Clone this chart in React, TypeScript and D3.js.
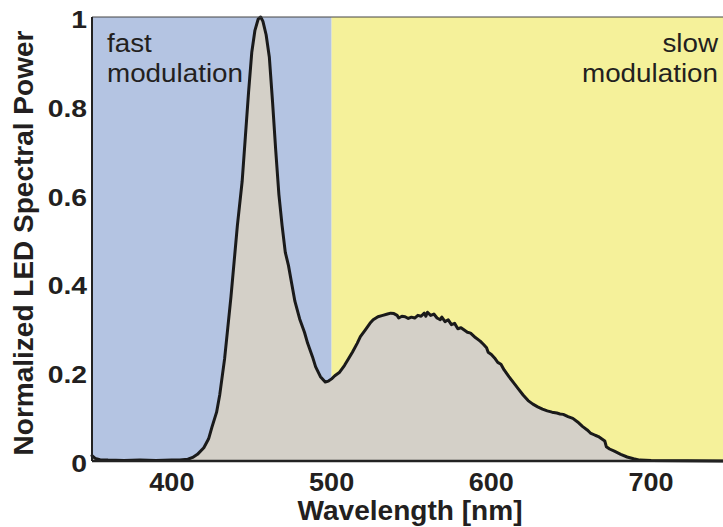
import React from "react";
import * as d3 from "d3";

// LED emission spectrum, normalized to its peak
const wavelengths = [
  350, 352, 355, 360, 370, 380, 390, 400, 405, 410, 413, 416, 420, 423, 425, 428, 430, 433, 435, 437,
  439, 441, 444, 446, 448, 450, 452, 454, 455.6, 457, 459, 461, 463, 465, 467, 469, 471, 473, 475, 477,
  480, 483, 485, 488, 490, 493, 496, 498, 500, 502, 505, 508, 510, 513, 516, 518, 521, 524, 526, 529,
  532, 535, 537, 539, 541, 542, 544, 546, 548, 550, 552, 554, 556, 558, 559, 560, 562, 564, 566, 568,
  569, 571, 573, 575, 577, 579, 581, 583, 585, 587, 590, 593, 595, 597, 598, 600, 602, 604, 606, 608,
  611, 614, 617, 620, 623, 626, 629, 632, 635, 638, 641, 643, 645, 648, 651, 654, 657, 660, 662, 665,
  667, 669, 671, 672, 674, 677, 681, 685, 689, 693, 700, 745,
];
const power = [
  0.012, 0.006, 0.003, 0.002, 0.001, 0.002, 0.001, 0.002, 0.002, 0.004, 0.008, 0.015, 0.03, 0.05, 0.075, 0.11, 0.15, 0.23, 0.3, 0.37,
  0.45, 0.53, 0.63, 0.73, 0.83, 0.92, 0.97, 0.995, 1.0, 0.99, 0.96, 0.91, 0.81, 0.7, 0.6, 0.53, 0.47, 0.44, 0.4, 0.36,
  0.32, 0.29, 0.265, 0.235, 0.212, 0.19, 0.178, 0.18, 0.185, 0.192, 0.2, 0.215, 0.227, 0.245, 0.265, 0.28, 0.295, 0.31, 0.318, 0.325,
  0.328, 0.331, 0.333, 0.332, 0.328, 0.322, 0.326, 0.325, 0.321, 0.324, 0.322, 0.328, 0.326, 0.333, 0.326, 0.335, 0.328, 0.331, 0.322, 0.318,
  0.324, 0.314, 0.318, 0.307, 0.31, 0.298, 0.3, 0.295, 0.29, 0.288, 0.278, 0.27, 0.263, 0.255, 0.245, 0.24, 0.232, 0.222, 0.218, 0.205,
  0.19, 0.176, 0.162, 0.148, 0.136, 0.128, 0.122, 0.117, 0.113, 0.11, 0.108, 0.106, 0.105, 0.1, 0.096, 0.088, 0.078, 0.07, 0.063, 0.058,
  0.055, 0.05, 0.045, 0.032, 0.027, 0.022, 0.015, 0.009, 0.005, 0.002, 0.001, 0.0,
];

const xTicks = [400, 500, 600, 700];
const yTicks = [0, 0.2, 0.4, 0.6, 0.8, 1];
const yTickLabels = ["0", "0.2", "0.4", "0.6", "0.8", "1"];

// modulation bands: [start, end] in nm
const fastBand = [350, 500];
const slowBand = [500, 745];

const W = 723;
const H = 527;
const margin = { left: 92, right: 0, top: 17, bottom: 66 };
const FONT = "'Liberation Sans', Arial, Helvetica, sans-serif";
const INK = "#231f20";

export default function App() {
  const x = d3.scaleLinear().domain([350, 745]).range([margin.left, W - margin.right]);
  const y = d3.scaleLinear().domain([0, 1]).range([H - margin.bottom, margin.top]);

  const pts: [number, number][] = wavelengths.map((w, i) => [w, power[i]]);
  const area = d3
    .area<[number, number]>()
    .x((d) => x(d[0]))
    .y0(y(0))
    .y1((d) => y(d[1]));
  const line = d3
    .line<[number, number]>()
    .x((d) => x(d[0]))
    .y((d) => y(d[1]));

  const y0 = y(0);
  const y1 = y(1);

  return (
    <svg
      width={W}
      height={H}
      style={{ position: "absolute", left: 0, top: 0, display: "block" }}
      fontFamily={FONT}
    >
      <rect width={W} height={H} fill="#ffffff" />
      <rect
        x={x(fastBand[0])}
        y={y1}
        width={x(fastBand[1]) - x(fastBand[0])}
        height={y0 - y1}
        fill="#b4c4e2"
      />
      <rect
        x={x(slowBand[0])}
        y={y1}
        width={x(slowBand[1]) - x(slowBand[0])}
        height={y0 - y1}
        fill="#f5f19a"
      />
      <path d={area(pts) ?? ""} fill="#d4d0c8" />
      <path
        d={line(pts) ?? ""}
        fill="none"
        stroke="#1a1a1a"
        strokeWidth={3}
        strokeLinejoin="round"
        strokeLinecap="round"
      />

      {/* frame */}
      <line x1={margin.left} x2={W} y1={y1} y2={y1} stroke="#444" strokeWidth={1} />
      <line x1={margin.left} x2={margin.left} y1={y1} y2={y0} stroke="#222" strokeWidth={2} />
      <line x1={margin.left} x2={W} y1={y0} y2={y0} stroke="#222" strokeWidth={2.5} />

      {/* band labels */}
      <g fontSize={26} fill={INK}>
        <text transform="translate(107,52) scale(1.07,1)">fast</text>
        <text transform="translate(107,82) scale(1.07,1)">modulation</text>
        <text transform="translate(718,52) scale(1.07,1)" textAnchor="end">slow</text>
        <text transform="translate(718,82) scale(1.07,1)" textAnchor="end">modulation</text>
      </g>

      {/* x ticks */}
      {xTicks.map((t) => (
        <text
          key={t}
          transform={`translate(${x(t)},491) scale(1.08,1)`}
          fontSize={25}
          fontWeight="bold"
          textAnchor="middle"
          fill={INK}
        >
          {t}
        </text>
      ))}
      {/* y ticks */}
      {yTicks.map((t, i) => (
        <text
          key={t}
          transform={`translate(87,${y(t) + 11}) scale(1.18,1)`}
          fontSize={24}
          fontWeight="bold"
          textAnchor="end"
          fill={INK}
        >
          {yTickLabels[i]}
        </text>
      ))}

      <text
        transform="translate(410,520) scale(1.04,1)"
        fontSize={27}
        fontWeight="bold"
        textAnchor="middle"
        fill={INK}
      >
        Wavelength [nm]
      </text>
      <text
        transform={`translate(33, ${243}) rotate(-90)`}
        fontSize={28}
        fontWeight="bold"
        textAnchor="middle"
        fill={INK}
      >
        Normalized LED Spectral Power
      </text>
    </svg>
  );
}
